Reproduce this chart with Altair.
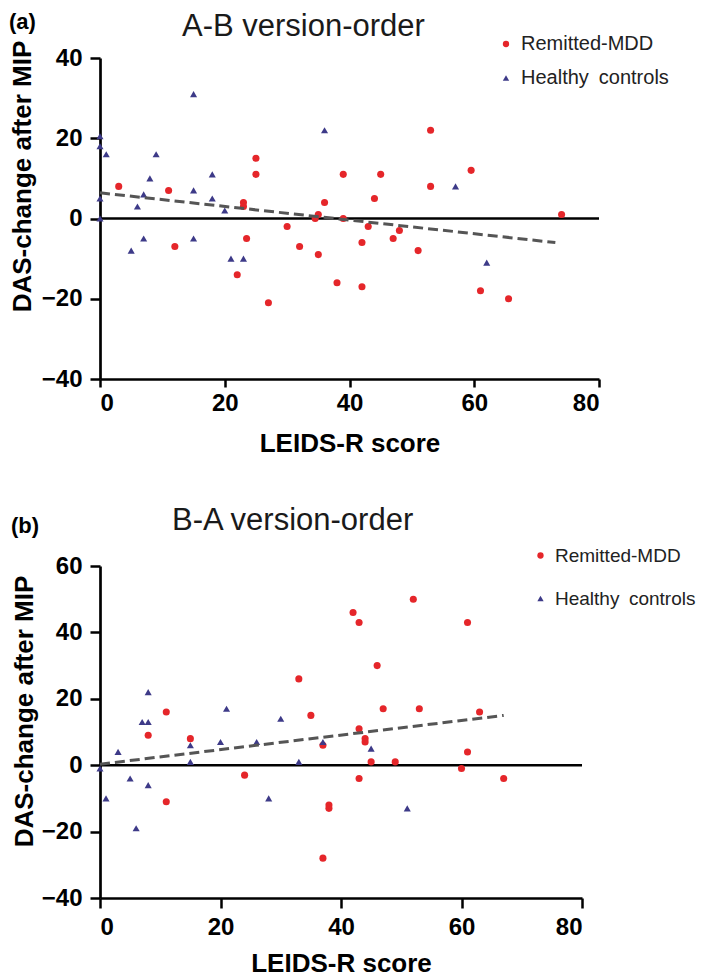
import altair as alt
import pandas as pd

FONT = "Liberation Sans, Arial, sans-serif"
RED = "#e5262a"
NAVY = "#3d3a88"
GROUPS = ["Remitted-MDD", "Healthy controls"]

# ---------- Panel (a): A-B version-order ----------
a_mdd_x = [3, 11, 12, 23, 23, 23.5, 22, 25, 25, 27, 30, 32, 35, 35, 34.5, 36, 38, 39, 39,
           42, 42, 43, 44, 45, 53, 53, 59.5, 74, 48, 47, 51, 61, 65.5]
a_mdd_y = [8, 7, -7, 4, 3, -5, -14, 15, 11, -21, -2, -7, -9, 1, 0, 4, -16, 11, 0,
           -6, -17, -2, 5, 11, 22, 8, 12, 1, -3, -5, -8, -18, -20]
a_hc_x = [15, 0, 0, 1, 9, 8, 7, 6, 0, 0, 15, 18, 18, 20, 5, 7, 15, 21, 23, 36, 57, 62]
a_hc_y = [31, 20.5, 18, 16, 16, 10, 6, 3, 5, 0, 7, 11, 5, 2, -8, -5, -5, -10, -10, 22, 8, -11]
a_fit_x = [0, 73]
a_fit_y = [6.4, -6.0]

# ---------- Panel (b): B-A version-order ----------
b_mdd_x = [11, 8, 15, 24, 11, 33, 35, 37, 42, 43, 46, 47, 43, 44, 44, 45, 52, 61, 53, 63,
           61, 49, 60, 67, 43, 38, 38, 37]
b_mdd_y = [16, 9, 8, -3, -11, 26, 15, 6, 46, 43, 30, 17, 11, 8, 7, 1, 50, 43, 17, 16,
           4, 1, -1, -4, -4, -12, -13, -28]
b_hc_x = [0, 3, 5, 7, 8, 8, 8, 1, 15, 15, 20, 21, 26, 28, 30, 33, 37, 45, 6, 51]
b_hc_y = [-1, 4, -4, 13, 13, 22, -6, -10, 6, 1, 7, 17, 7, -10, 14, 1, 7, 5, -19, -13]
b_fit_x = [0, 67]
b_fit_y = [0.3, 15]

x_ticks = [0, 20, 40, 60, 80]
a_y_ticks = [-40, -20, 0, 20, 40]
b_y_ticks = [-40, -20, 0, 20, 40, 60]


def make_points(mx, my, hx, hy):
    return pd.DataFrame({
        "score": mx + hx,
        "change": my + hy,
        "group": [GROUPS[0]] * len(mx) + [GROUPS[1]] * len(hx),
    })


def panel(df, fit_x, fit_y, ydom, yticks, W, H, title, tag,
          title_pos, tag_pos, leg_pos, leg_row, leg_font, ytitle_x, ytitle_y,
          xtick, xlabpad, xtitle_y):
    xs = alt.Scale(domain=[0, 80], nice=False, zero=False)
    ys = alt.Scale(domain=ydom, nice=False, zero=False)

    x_axis = alt.Axis(values=x_ticks, title="LEIDS-R score", tickSize=xtick,
                      labelPadding=xlabpad, titleY=xtitle_y, titleBaseline="alphabetic",
                      titleX=W / 2, titleAlign="center")
    y_axis = alt.Axis(values=yticks, title="DAS-change after MIP", tickSize=10,
                      labelPadding=8, titleAngle=270, titleX=ytitle_x, titleY=ytitle_y,
                      titleBaseline="alphabetic", titleAlign="center")

    leg = alt.Legend(orient="none", legendX=leg_pos[0], legendY=leg_pos[1], title=None,
                     labelFont=FONT, labelFontSize=leg_font, labelColor="#222222",
                     symbolSize=40, rowPadding=leg_row, labelOffset=5, padding=0,
                     symbolStrokeWidth=0,
                     labelExpr="replace(datum.label, ' ', '\u2002')")

    zero = alt.Chart(pd.DataFrame({"score": [0], "x2": [80], "change": [0]})).mark_rule(
        color="black", strokeWidth=2.6
    ).encode(
        x=alt.X("score:Q", scale=xs, axis=x_axis),
        x2="x2:Q",
        y=alt.Y("change:Q", scale=ys, axis=y_axis),
    )

    pts = alt.Chart(df).mark_point(filled=True, opacity=1, size=50).encode(
        x=alt.X("score:Q", scale=xs, axis=x_axis),
        y=alt.Y("change:Q", scale=ys, axis=y_axis),
        color=alt.Color("group:N", scale=alt.Scale(domain=GROUPS, range=[RED, NAVY]), legend=leg),
        shape=alt.Shape("group:N", scale=alt.Scale(domain=GROUPS, range=["circle", "triangle-up"]),
                        legend=leg),
    )

    fit = alt.Chart(pd.DataFrame({"score": fit_x, "change": fit_y})).mark_line(
        color="#555555", strokeWidth=3, strokeDash=[10, 5]
    ).encode(
        x=alt.X("score:Q", scale=xs, axis=x_axis),
        y=alt.Y("change:Q", scale=ys, axis=y_axis),
    )

    ttl = alt.Chart(pd.DataFrame({"t": [title]})).mark_text(
        font=FONT, fontSize=31, align="left", baseline="alphabetic", color="#1a1a1a"
    ).encode(text="t:N", x=alt.value(title_pos[0]), y=alt.value(title_pos[1]))

    tg = alt.Chart(pd.DataFrame({"t": [tag]})).mark_text(
        font=FONT, fontSize=22, fontWeight="bold", align="left", baseline="alphabetic",
        color="black"
    ).encode(text="t:N", x=alt.value(tag_pos[0]), y=alt.value(tag_pos[1]))

    return alt.layer(zero, pts, fit, ttl, tg).properties(width=W, height=H)


pa = panel(make_points(a_mdd_x, a_mdd_y, a_hc_x, a_hc_y), a_fit_x, a_fit_y,
           [-40, 40], a_y_ticks, 499, 321, "A-B version-order", "(a)",
           title_pos=(82, -22), tag_pos=(-91, -29), leg_pos=(396, -24), leg_row=14, leg_font=20,
           ytitle_x=-70, ytitle_y=118, xtick=8, xlabpad=4, xtitle_y=72)

pb = panel(make_points(b_mdd_x, b_mdd_y, b_hc_x, b_hc_y), b_fit_x, b_fit_y,
           [-40, 60], b_y_ticks, 482, 332, "B-A version-order", "(b)",
           title_pos=(72, -36), tag_pos=(-89, -33), leg_pos=(431, -20), leg_row=23, leg_font=19,
           ytitle_x=-68, ytitle_y=145, xtick=10, xlabpad=7, xtitle_y=73)

chart = alt.vconcat(pa, pb, spacing=49).resolve_scale(
    x="independent", y="independent", color="independent", shape="independent"
).resolve_axis(x="independent", y="independent").properties(
    padding={"top": 3, "left": 0, "right": 0, "bottom": 0}
).configure_view(stroke=None).configure_axis(
    grid=False,
    domainColor="black", domainWidth=2.7,
    tickColor="black", tickWidth=2.5,
    labelFont=FONT, labelFontSize=24, labelFontWeight="bold", labelColor="black",
    titleFont=FONT, titleFontSize=26, titleFontWeight="bold", titleColor="black",
)

chart.save("out.html", embed_options={"renderer": "svg", "actions": False})
